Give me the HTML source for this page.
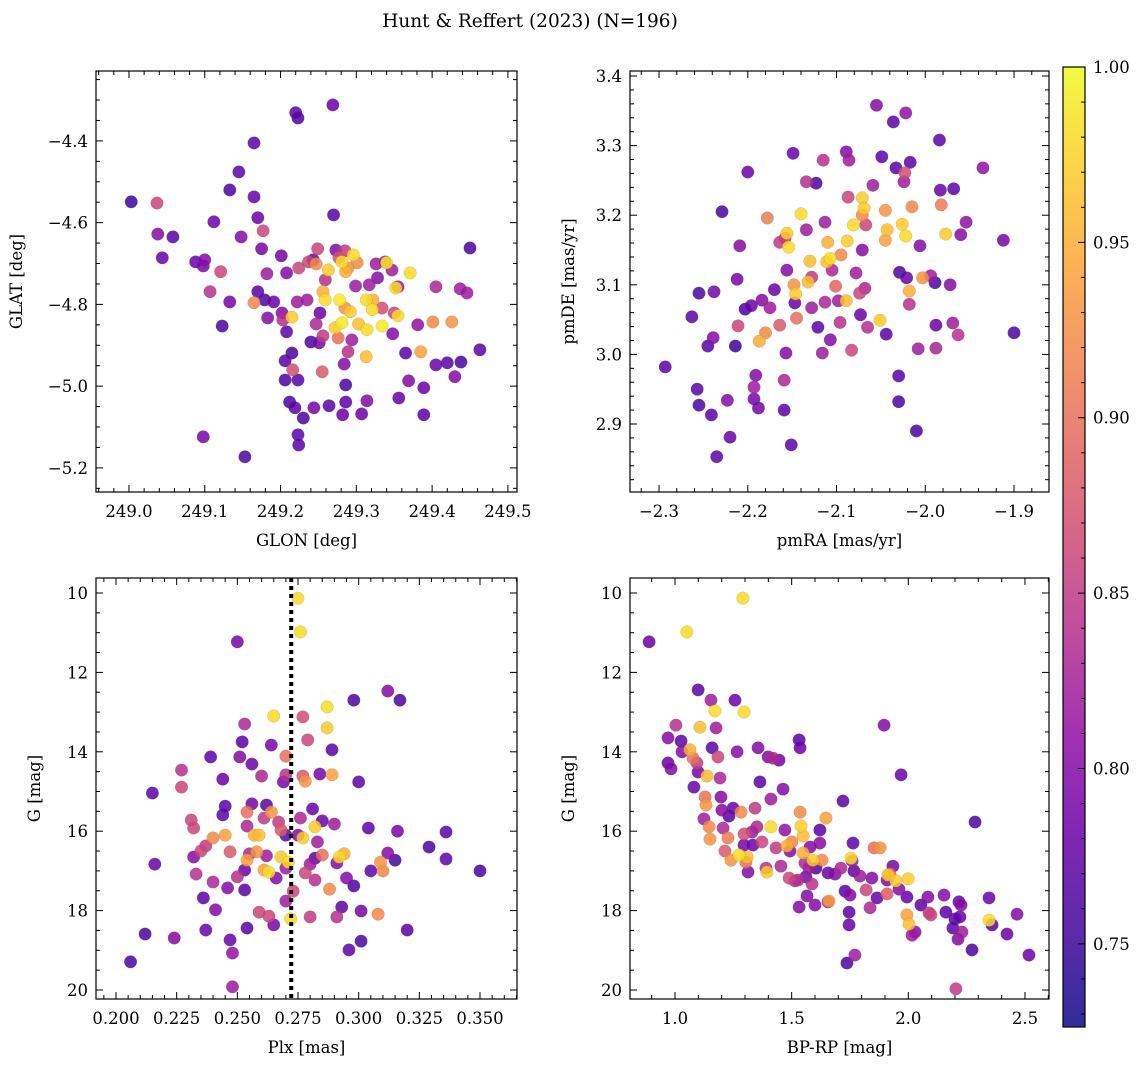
<!DOCTYPE html>
<html><head><meta charset="utf-8"><style>
body{margin:0;background:#fff}
svg text{font-family:"DejaVu Serif","Liberation Serif",serif;fill:#000}
</style></head><body>
<svg id="fig" width="1148" height="1067" viewBox="0 0 1148 1067" xmlns="http://www.w3.org/2000/svg">
<defs><linearGradient id="plasma" x1="0" y1="1" x2="0" y2="0">
<stop offset="0" stop-color="#0d0887"/><stop offset="0.1" stop-color="#41049d"/><stop offset="0.2" stop-color="#6a00a8"/><stop offset="0.3" stop-color="#8f0da4"/><stop offset="0.4" stop-color="#b12a90"/><stop offset="0.5" stop-color="#cc4778"/><stop offset="0.6" stop-color="#e16462"/><stop offset="0.7" stop-color="#f2844b"/><stop offset="0.8" stop-color="#fca636"/><stop offset="0.9" stop-color="#fcce25"/><stop offset="1" stop-color="#f0f921"/></linearGradient></defs>
<text x="530" y="27" font-size="18.5" text-anchor="middle">Hunt &amp; Reffert (2023) (N=196)</text>
</svg>
<script>
const p1Glon=[249.003,249.037,249.038,249.044,249.058,249.088,249.100,249.098,249.112,249.121,249.107,249.133,249.145,249.148,249.165,249.170,249.177,249.123,249.133,249.098,249.153,249.165,249.182,249.201,249.208,249.191,249.202,249.203,249.215,249.222,249.224,249.237,249.249,249.243,249.235,249.208,249.206,249.223,249.219,249.212,249.223,249.224,249.244,249.264,249.251,249.247,249.252,249.256,249.255,249.259,249.270,249.273,249.277,249.281,249.286,249.285,249.289,249.296,249.301,249.278,249.285,249.292,249.281,249.276,249.294,249.289,249.284,249.286,249.286,249.282,249.307,249.314,249.303,249.313,249.322,249.321,249.334,249.317,249.326,249.328,249.338,249.340,249.347,249.352,249.355,249.371,249.355,249.350,249.334,249.314,249.313,249.348,249.365,249.385,249.401,249.426,249.405,249.381,249.369,249.356,249.389,249.389,249.405,249.420,249.430,249.438,249.463,249.437,249.446,249.450,249.240,249.247,249.259,249.263,249.175,249.179,249.183,249.170,249.215,249.216,249.206,249.230,249.272,249.256,249.299,249.269,249.220,249.223,249.165];
const p1Glat=[-4.549,-4.552,-4.628,-4.686,-4.635,-4.696,-4.691,-4.706,-4.598,-4.720,-4.769,-4.520,-4.476,-4.635,-4.537,-4.588,-4.620,-4.853,-4.794,-5.124,-5.173,-4.796,-4.725,-4.681,-4.723,-4.794,-4.821,-4.838,-4.831,-4.794,-4.711,-4.696,-4.664,-4.691,-4.789,-4.867,-4.938,-4.985,-5.053,-5.039,-5.119,-5.144,-5.053,-5.048,-4.894,-4.848,-4.821,-4.877,-4.965,-4.789,-4.581,-4.667,-4.686,-4.696,-4.720,-4.669,-4.711,-4.679,-4.698,-4.789,-4.809,-4.818,-4.845,-4.882,-4.887,-4.916,-4.946,-4.997,-5.039,-5.070,-5.068,-5.036,-4.848,-4.789,-4.789,-4.813,-4.809,-4.752,-4.701,-4.735,-4.696,-4.698,-4.716,-4.760,-4.757,-4.723,-4.828,-4.821,-4.853,-4.862,-4.928,-4.872,-4.919,-4.916,-4.843,-4.843,-4.757,-4.850,-4.987,-5.029,-5.004,-5.070,-4.948,-4.943,-4.977,-4.941,-4.911,-4.762,-4.772,-4.662,-4.892,-4.701,-4.740,-4.716,-4.664,-4.789,-4.833,-4.769,-4.919,-4.960,-4.985,-5.078,-4.857,-4.769,-4.755,-4.312,-4.331,-4.344,-4.405];
const p1Prob=[0.75,0.86,0.80,0.78,0.77,0.78,0.80,0.79,0.78,0.86,0.84,0.76,0.77,0.80,0.78,0.78,0.86,0.76,0.79,0.79,0.76,0.92,0.82,0.79,0.80,0.78,0.80,0.84,0.97,0.82,0.86,0.86,0.86,0.78,0.82,0.77,0.77,0.77,0.77,0.76,0.77,0.77,0.79,0.77,0.79,0.83,0.78,0.85,0.88,0.98,0.77,0.80,0.87,0.98,0.95,0.85,0.93,0.98,0.92,0.99,0.93,0.97,0.99,0.90,0.82,0.84,0.80,0.76,0.77,0.78,0.78,0.80,0.96,0.98,0.95,0.98,0.87,0.82,0.82,0.80,0.82,0.99,0.82,0.98,0.82,0.98,0.98,0.86,0.99,0.98,0.96,0.80,0.77,0.94,0.92,0.93,0.83,0.81,0.80,0.78,0.78,0.77,0.78,0.77,0.80,0.76,0.77,0.82,0.82,0.76,0.76,0.92,0.84,0.97,0.79,0.76,0.80,0.77,0.76,0.87,0.76,0.76,0.97,0.95,0.82,0.78,0.77,0.76,0.77];

const p2Pmra=[-2.293,-2.263,-2.255,-2.257,-2.255,-2.241,-2.235,-2.238,-2.229,-2.245,-2.239,-2.220,-2.223,-2.214,-2.211,-2.209,-2.212,-2.200,-2.203,-2.196,-2.193,-2.193,-2.191,-2.188,-2.187,-2.180,-2.178,-2.184,-2.175,-2.170,-2.164,-2.164,-2.158,-2.156,-2.154,-2.151,-2.159,-2.157,-2.159,-2.156,-2.147,-2.146,-2.148,-2.145,-2.140,-2.149,-2.134,-2.132,-2.130,-2.128,-2.128,-2.123,-2.134,-2.121,-2.113,-2.115,-2.113,-2.110,-2.111,-2.107,-2.105,-2.101,-2.095,-2.098,-2.107,-2.116,-2.096,-2.089,-2.088,-2.087,-2.086,-2.083,-2.089,-2.081,-2.078,-2.074,-2.071,-2.069,-2.071,-2.067,-2.068,-2.071,-2.073,-2.065,-2.059,-2.055,-2.051,-2.049,-2.045,-2.043,-2.045,-2.044,-2.036,-2.033,-2.029,-2.030,-2.026,-2.030,-2.024,-2.023,-2.022,-2.018,-2.021,-2.018,-2.017,-2.015,-2.022,-2.010,-2.008,-2.006,-2.003,-1.994,-1.989,-1.988,-1.988,-1.982,-1.983,-1.984,-1.977,-1.972,-1.969,-1.968,-1.963,-1.960,-1.954,-1.935,-1.912,-1.900];
const p2Pmde=[2.982,3.054,3.088,2.950,2.927,2.913,2.853,3.090,3.205,3.012,3.024,2.881,2.934,3.012,3.041,3.156,3.108,3.262,3.065,3.070,2.936,2.953,2.970,2.923,3.019,3.031,3.196,3.078,3.067,3.093,3.042,3.161,3.167,3.174,3.154,2.870,2.920,3.002,2.963,3.121,3.074,3.087,3.100,3.052,3.202,3.289,3.179,3.104,3.134,3.111,3.067,3.246,3.248,3.039,3.075,3.279,3.190,3.161,3.133,3.138,3.121,3.098,3.143,3.077,3.021,3.002,3.046,3.077,3.163,3.226,3.279,3.006,3.291,3.186,3.117,3.088,3.225,3.210,3.200,3.186,3.095,3.150,3.057,3.039,3.243,3.358,3.049,3.284,3.207,3.179,3.164,3.029,3.334,3.268,3.118,2.932,3.187,2.969,3.248,3.261,3.347,3.091,3.110,3.072,3.276,3.212,3.170,2.890,3.008,3.156,3.110,3.113,3.103,3.009,3.042,3.215,3.236,3.308,3.173,3.100,3.045,3.238,3.028,3.172,3.190,3.268,3.164,3.031];
const p2Prob=[0.77,0.77,0.76,0.77,0.76,0.77,0.77,0.79,0.76,0.77,0.80,0.78,0.80,0.75,0.86,0.80,0.79,0.78,0.76,0.78,0.79,0.82,0.80,0.79,0.95,0.92,0.91,0.80,0.82,0.78,0.88,0.85,0.85,0.97,0.98,0.77,0.77,0.80,0.83,0.80,0.78,0.97,0.93,0.90,0.98,0.78,0.82,0.96,0.96,0.85,0.82,0.76,0.84,0.77,0.83,0.84,0.82,0.95,0.96,0.98,0.83,0.89,0.92,0.82,0.80,0.82,0.84,0.96,0.97,0.86,0.82,0.86,0.80,0.98,0.82,0.86,0.97,0.97,0.92,0.86,0.83,0.80,0.78,0.84,0.82,0.80,0.97,0.77,0.93,0.96,0.94,0.77,0.77,0.77,0.76,0.76,0.97,0.77,0.82,0.87,0.81,0.95,0.78,0.84,0.77,0.92,0.98,0.76,0.82,0.80,0.93,0.82,0.76,0.83,0.78,0.91,0.78,0.77,0.97,0.80,0.82,0.77,0.84,0.80,0.81,0.81,0.79,0.76];

const p3Plx=[0.206,0.212,0.215,0.216,0.224,0.227,0.227,0.231,0.232,0.232,0.233,0.235,0.236,0.237,0.237,0.239,0.240,0.240,0.241,0.244,0.244,0.245,0.247,0.245,0.246,0.247,0.248,0.248,0.250,0.250,0.251,0.253,0.252,0.253,0.253,0.254,0.254,0.254,0.254,0.255,0.256,0.256,0.257,0.258,0.259,0.259,0.260,0.261,0.261,0.262,0.262,0.263,0.263,0.264,0.264,0.265,0.265,0.266,0.267,0.268,0.268,0.269,0.270,0.270,0.270,0.270,0.270,0.271,0.272,0.273,0.275,0.276,0.275,0.276,0.277,0.277,0.277,0.278,0.278,0.279,0.280,0.280,0.281,0.282,0.283,0.282,0.282,0.284,0.285,0.285,0.287,0.287,0.288,0.289,0.289,0.290,0.291,0.291,0.292,0.294,0.293,0.295,0.296,0.298,0.300,0.298,0.301,0.301,0.304,0.305,0.308,0.309,0.310,0.312,0.312,0.315,0.316,0.317,0.320,0.329,0.336,0.336,0.350];
const p3G=[19.29,18.59,15.04,16.83,18.69,14.46,14.89,15.72,15.92,16.65,17.08,16.50,17.68,18.49,16.37,14.13,16.17,17.28,17.98,14.69,15.59,16.10,16.52,15.37,17.43,18.74,19.07,19.92,11.23,17.15,14.13,13.30,13.75,17.48,16.98,18.44,15.52,15.87,16.73,16.57,15.31,14.31,16.10,16.52,18.04,16.10,14.61,16.98,15.67,15.34,16.62,18.14,17.03,15.52,13.83,13.10,18.36,17.18,15.77,16.65,15.97,14.76,16.10,16.93,14.11,14.58,17.76,16.78,18.21,17.51,10.13,10.98,16.10,15.67,13.12,14.61,16.17,14.74,17.05,13.70,16.83,18.16,15.44,15.89,16.27,16.68,17.23,14.56,15.74,16.60,13.40,12.87,17.46,14.58,13.95,15.82,16.80,18.16,16.65,16.57,17.91,17.18,18.99,17.38,14.76,12.70,18.01,18.77,15.92,17.00,18.09,16.78,17.00,16.55,12.47,16.73,16.00,12.70,18.49,16.40,16.02,16.70,17.00];
const p3Prob=[0.76,0.76,0.77,0.78,0.80,0.84,0.86,0.86,0.86,0.80,0.84,0.86,0.77,0.78,0.85,0.77,0.92,0.83,0.80,0.78,0.77,0.94,0.88,0.77,0.80,0.78,0.81,0.82,0.79,0.84,0.80,0.83,0.77,0.77,0.78,0.77,0.90,0.83,0.94,0.83,0.79,0.78,0.95,0.93,0.86,0.96,0.83,0.94,0.85,0.77,0.82,0.86,0.98,0.93,0.79,0.98,0.79,0.80,0.85,0.97,0.88,0.79,0.77,0.82,0.90,0.84,0.82,0.98,0.98,0.86,0.98,0.98,0.80,0.83,0.87,0.88,0.97,0.93,0.86,0.86,0.82,0.85,0.78,0.97,0.82,0.77,0.84,0.79,0.78,0.90,0.97,0.98,0.92,0.94,0.77,0.82,0.80,0.84,0.98,0.95,0.77,0.80,0.77,0.76,0.77,0.76,0.79,0.76,0.77,0.77,0.92,0.93,0.92,0.80,0.80,0.76,0.79,0.76,0.77,0.76,0.77,0.77,0.76];
const plxMedian=0.2722;

const p4Bprp=[0.889,0.970,0.970,0.983,1.004,1.026,1.030,1.051,1.064,1.077,1.081,1.094,1.099,1.099,1.107,1.124,1.129,1.133,1.137,1.146,1.150,1.154,1.171,1.159,1.176,1.184,1.193,1.197,1.201,1.206,1.214,1.227,1.231,1.240,1.249,1.257,1.266,1.274,1.283,1.291,1.296,1.296,1.296,1.304,1.309,1.313,1.330,1.334,1.343,1.351,1.356,1.364,1.373,1.390,1.394,1.399,1.411,1.411,1.420,1.433,1.446,1.454,1.463,1.471,1.480,1.489,1.493,1.501,1.514,1.527,1.532,1.532,1.536,1.536,1.540,1.549,1.549,1.557,1.561,1.566,1.574,1.579,1.587,1.591,1.600,1.604,1.621,1.621,1.630,1.647,1.656,1.660,1.656,1.686,1.711,1.720,1.729,1.737,1.746,1.746,1.750,1.754,1.759,1.763,1.767,1.771,1.793,1.819,1.836,1.844,1.853,1.866,1.879,1.896,1.909,1.909,1.913,1.921,1.934,1.947,1.960,1.969,1.999,1.994,1.994,2.003,2.016,2.029,2.054,2.084,2.089,2.097,2.153,2.161,2.191,2.200,2.204,2.213,2.217,2.221,2.226,2.230,2.273,2.286,2.346,2.346,2.359,2.423,2.466,2.517];
const p4G=[11.23,13.65,14.28,14.43,13.33,13.73,14.00,10.98,13.95,14.16,14.89,14.28,12.44,14.51,13.38,15.69,15.14,15.34,14.61,15.89,16.20,12.70,12.97,13.90,13.40,14.13,14.66,15.14,15.47,15.92,16.50,16.17,15.62,16.73,15.42,12.70,14.00,16.60,15.52,10.13,13.00,16.07,16.35,16.78,16.65,17.03,16.02,16.35,15.42,15.89,13.90,14.76,16.27,16.93,17.03,14.13,15.19,15.89,14.16,16.42,14.21,16.88,14.94,15.97,16.37,17.18,16.50,16.27,17.25,17.23,17.91,13.70,13.90,15.52,15.87,16.12,16.55,16.80,17.15,17.63,16.93,16.40,17.33,16.73,17.86,16.93,16.30,15.97,16.73,15.67,17.78,17.76,17.05,17.08,16.93,15.24,17.51,19.32,18.36,18.04,17.61,16.68,16.75,16.30,17.00,19.12,17.13,17.48,17.93,17.18,16.42,17.68,16.42,13.33,17.23,17.58,17.10,17.08,16.88,17.25,17.46,14.58,17.20,17.66,18.11,18.34,18.62,18.54,17.86,17.66,18.06,18.11,17.61,18.04,18.44,18.21,19.97,18.72,17.78,18.16,17.86,18.54,18.99,15.77,17.68,18.24,18.36,18.59,18.09,19.12];
const p4Prob=[0.78,0.80,0.78,0.80,0.84,0.77,0.80,0.98,0.95,0.90,0.78,0.85,0.77,0.79,0.96,0.82,0.90,0.93,0.96,0.92,0.93,0.82,0.98,0.77,0.82,0.86,0.83,0.80,0.80,0.83,0.88,0.91,0.77,0.93,0.78,0.78,0.80,0.98,0.92,0.98,0.98,0.87,0.79,0.90,0.96,0.80,0.82,0.78,0.85,0.83,0.80,0.77,0.86,0.84,0.97,0.80,0.82,0.98,0.83,0.85,0.79,0.83,0.80,0.81,0.95,0.86,0.80,0.92,0.83,0.84,0.80,0.77,0.78,0.92,0.97,0.96,0.95,0.83,0.79,0.80,0.82,0.80,0.84,0.97,0.80,0.76,0.80,0.77,0.92,0.94,0.82,0.94,0.78,0.80,0.83,0.77,0.77,0.76,0.78,0.77,0.80,0.98,0.82,0.77,0.77,0.82,0.82,0.86,0.83,0.80,0.90,0.78,0.93,0.80,0.80,0.88,0.97,0.90,0.79,0.97,0.80,0.78,0.97,0.78,0.94,0.96,0.82,0.80,0.77,0.80,0.85,0.86,0.80,0.77,0.77,0.77,0.85,0.80,0.78,0.78,0.80,0.82,0.76,0.76,0.78,0.98,0.77,0.78,0.80,0.78];

const cbTicks=[0.75,0.80,0.85,0.90,0.95,1.00];
const vmin=0.7263, vmax=1.0;
const stops=["#0d0887","#41049d","#6a00a8","#8f0da4","#b12a90","#cc4778","#e16462","#f2844b","#fca636","#fcce25","#f0f921"];
function hex(h){return [1,3,5].map(i=>parseInt(h.substr(i,2),16));}
function plasma(v){let t=Math.max(0,Math.min(1,(v-vmin)/(vmax-vmin)))*10;let i=Math.min(9,Math.floor(t)),f=t-i;const a=hex(stops[i]),b=hex(stops[i+1]);return "rgb("+a.map((c,k)=>Math.round(c+(b[k]-c)*f)).join(",")+")";}
const svg=document.getElementById('fig');const NS="http://www.w3.org/2000/svg";
function mk(tag,at,parent){const e=document.createElementNS(NS,tag);for(const k in at)e.setAttribute(k,at[k]);(parent||svg).appendChild(e);return e;}
function fmt(v,d){return v.toFixed(d).replace('-','\u2212');}
const TF=16.5;
function panel(c){
  const g=mk('g',{});
  
  
  const sx=v=>c.x0+(v-c.xmin)/(c.xmax-c.xmin)*(c.x1-c.x0);
  const sy=c.inv?(v=>c.y0+(v-c.ymin)/(c.ymax-c.ymin)*(c.y1-c.y0)):(v=>c.y1-(v-c.ymin)/(c.ymax-c.ymin)*(c.y1-c.y0));
  const idx=c.xs.map((_,i)=>i).sort((a,b)=>c.ps[a]-c.ps[b]);
  for(const i of idx){
    const d=mk('circle',{cx:sx(c.xs[i]),cy:sy(c.ys[i]),r:6.3,fill:plasma(c.ps[i]),'fill-opacity':0.85,stroke:'#666','stroke-width':0.3,'stroke-opacity':0.5},g);
    
    
  }
  if(c.vline!==undefined){const l=mk('line',{x1:sx(c.vline),x2:sx(c.vline),y1:c.y0,y2:c.y1,stroke:'#000','stroke-width':4,'stroke-dasharray':'4,4'},g);
    
    }
  const box=mk('rect',{x:c.x0,y:c.y0,width:c.x1-c.x0,height:c.y1-c.y0,fill:'none',stroke:'#000','stroke-width':1.2},g);
  
  
  const e=1e-9;
  for(let v=Math.ceil(c.xmin/c.xminor)*c.xminor;v<=c.xmax+e;v+=c.xminor){const px=sx(v);
    const maj=Math.abs(v/c.xmajor-Math.round(v/c.xmajor))<1e-6;const L=maj?7:4;
    mk('line',{x1:px,x2:px,y1:c.y1,y2:c.y1-L,stroke:'#000','stroke-width':1},g);
    mk('line',{x1:px,x2:px,y1:c.y0,y2:c.y0+L,stroke:'#000','stroke-width':1},g);
    if(maj){const t=mk('text',{x:px,y:c.y1+25,'font-size':TF,'text-anchor':'middle'},g);t.textContent=fmt(v,c.xdec);
      
      }}
  for(let v=Math.ceil(c.ymin/c.yminor)*c.yminor;v<=c.ymax+e;v+=c.yminor){const py=sy(v);
    const maj=Math.abs(v/c.ymajor-Math.round(v/c.ymajor))<1e-6;const L=maj?7:4;
    mk('line',{x1:c.x0,x2:c.x0+L,y1:py,y2:py,stroke:'#000','stroke-width':1},g);
    mk('line',{x1:c.x1,x2:c.x1-L,y1:py,y2:py,stroke:'#000','stroke-width':1},g);
    if(maj){const t=mk('text',{x:c.x0-8,y:py+6,'font-size':TF,'text-anchor':'end'},g);t.textContent=fmt(v,c.ydec);
      
      }}
  const xl=mk('text',{x:(c.x0+c.x1)/2,y:c.y1+54,'font-size':16.5,'text-anchor':'middle'},g);xl.textContent=c.xlabel;
  
  
  const yx=c.x0-c.ylOff,yy=(c.y0+c.y1)/2;
  const yl=mk('text',{x:yx,y:yy,'font-size':16.5,'text-anchor':'middle',transform:`rotate(-90 ${yx} ${yy})`},g);yl.textContent=c.ylabel;
  
  
}
panel({name:'glon-glat-panel',x0:96,x1:517,y0:71,y1:492,xmin:248.9565,xmax:249.512,ymin:-5.259,ymax:-4.229,xmajor:0.1,xminor:0.02,ymajor:0.2,yminor:0.05,xdec:1,ydec:1,xs:p1Glon,ys:p1Glat,ps:p1Prob,xlabel:'GLON [deg]',ylabel:'GLAT [deg]',ylOff:74});
panel({name:'proper-motion-panel',x0:630,x1:1049,y0:71,y1:492,xmin:-2.3327,xmax:-1.8606,ymin:2.8023,ymax:3.4072,xmajor:0.1,xminor:0.02,ymajor:0.1,yminor:0.02,xdec:1,ydec:1,xs:p2Pmra,ys:p2Pmde,ps:p2Prob,xlabel:'pmRA [mas/yr]',ylabel:'pmDE [mas/yr]',ylOff:56});
panel({name:'parallax-magnitude-panel',x0:96,x1:517,y0:578,y1:999,xmin:0.19176,xmax:0.36524,ymin:9.622,ymax:20.227,inv:true,xmajor:0.025,xminor:0.005,ymajor:2,yminor:0.5,xdec:3,ydec:0,xs:p3Plx,ys:p3G,ps:p3Prob,vline:plxMedian,xlabel:'Plx [mas]',ylabel:'G [mag]',ylOff:56});
panel({name:'color-magnitude-panel',x0:630,x1:1049,y0:578,y1:999,xmin:0.8071,xmax:2.603,ymin:9.622,ymax:20.227,inv:true,xmajor:0.5,xminor:0.1,ymajor:2,yminor:0.5,xdec:1,ydec:0,xs:p4Bprp,ys:p4G,ps:p4Prob,xlabel:'BP-RP [mag]',ylabel:'G [mag]',ylOff:56});
const cb=mk('g',{});


mk('rect',{x:1063,y:67,width:22,height:960,fill:'url(#plasma)','fill-opacity':0.85},cb);
mk('rect',{x:1063,y:67,width:22,height:960,fill:'none',stroke:'#000','stroke-width':1.2},cb);
const cy=v=>1027-(v-vmin)/(vmax-vmin)*960;
for(let v=0.73;v<=1.0001;v+=0.01){const y=cy(v);const maj=Math.abs(v*20-Math.round(v*20))<1e-6;
  mk('line',{x1:1085,x2:1085-(maj?7:4),y1:y,y2:y,stroke:'#000','stroke-width':1},cb);}
for(const v of cbTicks){const t=mk('text',{x:1093,y:cy(v)+6,'font-size':TF},cb);t.textContent=v.toFixed(2);
  
  }
</script>
</body></html>
